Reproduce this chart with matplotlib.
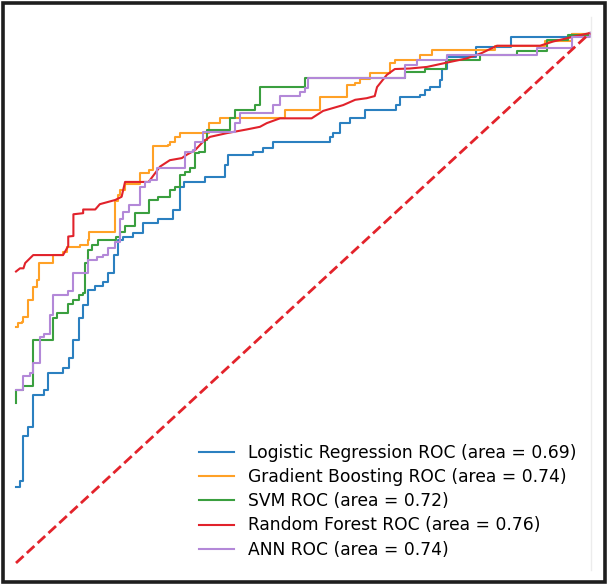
import matplotlib
matplotlib.use("Agg")
import matplotlib.pyplot as plt
from matplotlib.patches import Rectangle
from matplotlib.lines import Line2D

# ROC curve points (fpr, tpr)
lr_fpr = [0, 0.007, 0.013, 0.021, 0.030, 0.048, 0.056, 0.082, 0.093, 0.100, 0.109, 0.116, 0.126, 0.138,
          0.152, 0.161, 0.171, 0.178, 0.187, 0.204, 0.222, 0.248, 0.274, 0.285, 0.292, 0.329, 0.364, 0.370,
          0.413, 0.431, 0.448, 0.547, 0.552, 0.565, 0.582, 0.608, 0.662, 0.669, 0.704, 0.713, 0.721, 0.739,
          0.742, 0.750, 0.801, 0.862, 0.969, 1.0]
lr_tpr = [0.143, 0.155, 0.240, 0.257, 0.317, 0.326, 0.359, 0.367, 0.386, 0.421, 0.462, 0.487, 0.515, 0.523,
          0.531, 0.547, 0.581, 0.609, 0.616, 0.622, 0.641, 0.650, 0.666, 0.710, 0.719, 0.728, 0.751, 0.770,
          0.776, 0.783, 0.795, 0.804, 0.811, 0.830, 0.839, 0.855, 0.864, 0.880, 0.883, 0.892, 0.899, 0.911,
          0.933, 0.955, 0.974, 0.992, 0.998, 1.0]

gb_fpr = [0, 0.004, 0.010, 0.013, 0.021, 0.030, 0.036, 0.040, 0.065, 0.082, 0.088, 0.112, 0.126, 0.127,
          0.173, 0.178, 0.181, 0.190, 0.216, 0.231, 0.239, 0.265, 0.268, 0.277, 0.286, 0.336, 0.355, 0.469,
          0.530, 0.576, 0.591, 0.599, 0.617, 0.652, 0.660, 0.704, 0.724, 0.835, 0.922, 0.969, 1.0]
gb_tpr = [0.446, 0.452, 0.455, 0.464, 0.496, 0.521, 0.534, 0.566, 0.581, 0.587, 0.597, 0.600, 0.609, 0.625,
          0.683, 0.694, 0.704, 0.716, 0.735, 0.742, 0.786, 0.789, 0.795, 0.804, 0.812, 0.830, 0.840, 0.855,
          0.880, 0.902, 0.905, 0.913, 0.924, 0.943, 0.949, 0.959, 0.968, 0.976, 0.985, 0.999, 1.0]

svm_fpr = [0, 0, 0.013, 0.030, 0.065, 0.071, 0.091, 0.100, 0.109, 0.117, 0.120, 0.126, 0.132, 0.143,
           0.175, 0.181, 0.190, 0.207, 0.231, 0.248, 0.268, 0.277, 0.286, 0.294, 0.303, 0.312, 0.318, 0.329,
           0.332, 0.373, 0.382, 0.416, 0.425, 0.504, 0.678, 0.713, 0.749, 0.808, 0.873, 0.925, 0.962, 1.0]
svm_tpr = [0.301, 0.326, 0.334, 0.421, 0.462, 0.471, 0.489, 0.496, 0.506, 0.509, 0.566, 0.591, 0.600, 0.609,
           0.616, 0.625, 0.635, 0.660, 0.685, 0.691, 0.704, 0.710, 0.732, 0.738, 0.745, 0.773, 0.776, 0.798,
           0.817, 0.839, 0.855, 0.864, 0.899, 0.916, 0.927, 0.933, 0.950, 0.959, 0.966, 0.987, 0.996, 1.0]

rf_fpr = [0, 0.007, 0.013, 0.016, 0.030, 0.082, 0.091, 0.091, 0.100, 0.100, 0.117, 0.117, 0.138, 0.146,
          0.173, 0.184, 0.190, 0.231, 0.251, 0.268, 0.289, 0.297, 0.312, 0.326, 0.338, 0.367, 0.402, 0.425,
          0.437, 0.460, 0.515, 0.535, 0.570, 0.591, 0.611, 0.625, 0.629, 0.646, 0.660, 0.686, 0.716, 0.750,
          0.785, 0.811, 0.838, 0.913, 0.936, 0.971, 1.0]
rf_tpr = [0.550, 0.556, 0.556, 0.566, 0.581, 0.581, 0.598, 0.616, 0.617, 0.658, 0.660, 0.667, 0.667, 0.677,
          0.685, 0.691, 0.719, 0.719, 0.748, 0.760, 0.764, 0.770, 0.779, 0.795, 0.804, 0.811, 0.818, 0.823,
          0.830, 0.839, 0.839, 0.853, 0.864, 0.874, 0.877, 0.881, 0.898, 0.921, 0.932, 0.933, 0.936, 0.944,
          0.952, 0.962, 0.976, 0.976, 0.984, 0.993, 1.0]

ann_fpr = [0, 0.013, 0.024, 0.030, 0.042, 0.048, 0.059, 0.065, 0.091, 0.100, 0.126, 0.141, 0.152, 0.161,
           0.173, 0.181, 0.187, 0.196, 0.216, 0.225, 0.233, 0.246, 0.294, 0.309, 0.312, 0.326, 0.382, 0.390,
           0.448, 0.460, 0.495, 0.504, 0.509, 0.678, 0.698, 0.750, 0.907, 0.968, 1.0]
ann_tpr = [0.326, 0.352, 0.359, 0.377, 0.427, 0.433, 0.468, 0.506, 0.513, 0.548, 0.571, 0.577, 0.581, 0.594,
           0.606, 0.650, 0.663, 0.676, 0.710, 0.719, 0.723, 0.745, 0.776, 0.779, 0.795, 0.814, 0.830, 0.849,
           0.864, 0.881, 0.889, 0.896, 0.915, 0.940, 0.949, 0.959, 0.971, 0.993, 1.0]

labels = ['Logistic Regression ROC (area = 0.69)',
          'Gradient Boosting ROC (area = 0.74)',
          'SVM ROC (area = 0.72)',
          'Random Forest ROC (area = 0.76)',
          'ANN ROC (area = 0.74)']

fig = plt.figure(figsize=(6.08, 5.84), dpi=100)
ax = fig.add_axes([16/608, 21/584, 574/608, 530/584])

ax.plot(lr_fpr, lr_tpr, color='#2b80c0', lw=1.5, drawstyle='steps-post', label=labels[0], clip_on=False)
ax.plot(gb_fpr, gb_tpr, color='#ffa126', lw=1.5, drawstyle='steps-post', label=labels[1], clip_on=False)
ax.plot(svm_fpr, svm_tpr, color='#3a9f3f', lw=1.5, drawstyle='steps-post', label=labels[2], clip_on=False)
ax.plot(rf_fpr, rf_tpr, color='#e1222b', lw=1.5, label=labels[3], clip_on=False)
ax.plot(ann_fpr, ann_tpr, color='#b388d8', lw=1.5, drawstyle='steps-post', label=labels[4], clip_on=False)
ax.plot([0, 1], [0, 1], '--', color='#e3232b', lw=2, clip_on=False)

ax.set_xlim(0, 1)
ax.set_ylim(0, 1)
ax.axis('off')
ax.legend(loc='lower right', bbox_to_anchor=(0.988, -0.005), borderaxespad=0, borderpad=0.4,
          frameon=False, fontsize=12.3, handlelength=2.05, handletextpad=0.8, labelspacing=0.37)

# faint line at right + dark outer frame
fig.add_artist(Line2D([591/608, 591/608], [14/584, 567/584], color='#ececec', lw=1))
fig.add_artist(Rectangle((2.5/608, 2.5/584), 602.5/608, 579/584, fill=False,
                         edgecolor='#1e1e1e', lw=2.6))

plt.savefig('out.png', dpi=100)
